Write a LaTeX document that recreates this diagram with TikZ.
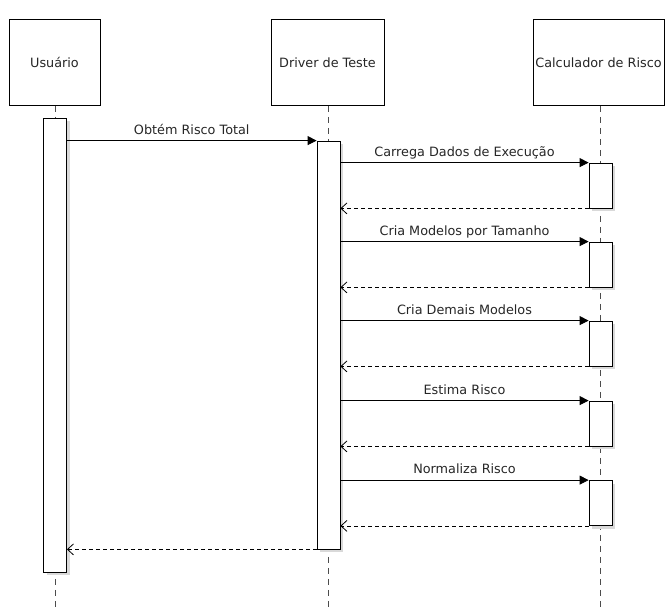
\documentclass[tikz,border=0pt]{standalone}
\usepackage{fontspec}
\setmainfont{DejaVu Sans}
\usetikzlibrary{arrows.meta,shadows}
\begin{document}
\begin{tikzpicture}[x=1pt,y=-1pt,
  font=\fontsize{12.8}{15}\selectfont,
  header/.style={draw=black, line width=0.8pt, fill=white, minimum height=86pt, inner sep=0pt, text=black!85},
  lifeline/.style={draw=black!70, line width=0.8pt, dash pattern=on 6pt off 5pt},
  activation/.style={draw=black, line width=0.8pt, fill=white, minimum width=23pt, inner sep=0pt,
    general shadow={fill=black!15, shadow xshift=3pt, shadow yshift=-3pt}},
  call/.style={draw=black, line width=0.8pt, -{Triangle[length=9pt,width=9pt]}},
  reply/.style={draw=black, line width=0.8pt, dash pattern=on 4pt off 3pt, -{Straight Barb[length=6pt,width=11pt]}},
  msg/.style={midway, anchor=base, yshift=6.5pt, inner sep=0pt, text=black!85}]
\useasboundingbox (0,0) rectangle (665,608);

% participants
\node[header, minimum width=91pt]  (user)   at (54.5,62.5)  {Usuário};
\node[header, minimum width=113pt] (driver) at (327.5,62.5) {Driver de Teste};
\node[header, minimum width=131pt] (calc)   at (598.5,62.5) {Calculador de Risco};

% lifelines
\coordinate (userEnd)   at (55,608);
\coordinate (driverEnd) at (328.5,608);
\coordinate (calcEnd)   at (600.5,608);
\draw[lifeline] (user.south -| userEnd) -- (userEnd);
\draw[lifeline] (driver.south -| driverEnd) -- (driverEnd);
\draw[lifeline] (calc.south -| calcEnd) -- (calcEnd);

% activations
\node[activation, minimum height=454pt] (uA) at (55,345) {};
\node[activation, minimum height=408pt] (dA) at (328.5,345) {};
\node[activation, minimum height=45pt] (c1) at (600.5,185.5) {};
\node[activation, minimum height=45pt] (c2) at (600.5,264.5) {};
\node[activation, minimum height=45pt] (c3) at (600.5,343.5) {};
\node[activation, minimum height=45pt] (c4) at (600.5,423.5) {};
\node[activation, minimum height=45pt] (c5) at (600.5,503) {};

% messages
\draw[call] (uA.east |- dA.north west) -- node[msg] {Obtém Risco Total} (dA.north west);
\foreach \c/\t in {c1/Carrega Dados de Execução, c2/Cria Modelos por Tamanho, c3/Cria Demais Modelos, c4/Estima Risco, c5/Normaliza Risco}{
  \draw[call] (dA.east |- \c.north west) -- node[msg] {\t} (\c.north west);
  \draw[reply] (\c.south west) -- (dA.east |- \c.south west);
}
\draw[reply] (dA.south west) -- (uA.east |- dA.south west);
\end{tikzpicture}
\end{document}
